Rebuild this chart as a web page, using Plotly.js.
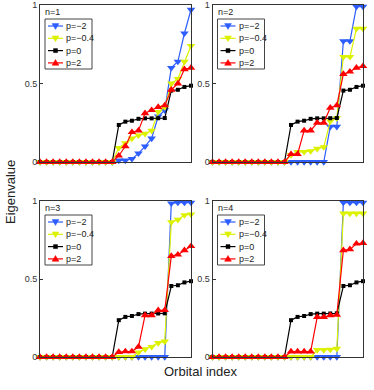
<!DOCTYPE html>
<html>
<head>
<meta charset="utf-8">
<script src="https://cdn.plot.ly/plotly-3.0.1.min.js"></script>
<style>
  body { margin: 0; padding: 0; background: #fff; }
  #myPlot { width: 374px; height: 390px; }
</style>
</head>
<body>
<div id="myPlot"></div>
<script>
// Orbital index 1..24
var orbital = [1,2,3,4,5,6,7,8,9,10,11,12,13,14,15,16,17,18,19,20,21,22,23,24];
var seriesNames = ["p=\u22122", "p=\u22120.4", "p=0", "p=2"];
var panelNames = ["n=1", "n=2", "n=3", "n=4"];

// p=0 is the same in every panel
var pZero = [0,0,0,0,0,0,0,0,0,0,0,0, 0.236,0.257,0.263,0.275,0.278,0.278,0.279,0.28,0.455,0.46,0.478,0.486];

// n=1
var pm2N1  = [0,0,0,0,0,0,0,0,0,0,0,0, 0.01,0.01,0.02,0.055,0.1,0.15,0.29,0.33,0.6,0.64,0.82,0.97];
var pm04N1 = [0,0,0,0,0,0,0,0,0,0,0,0, 0.09,0.12,0.15,0.17,0.18,0.2,0.32,0.35,0.5,0.53,0.64,0.74];
var p2N1   = [0,0,0,0,0,0,0,0,0,0,0,0, 0.04,0.1,0.19,0.2,0.31,0.33,0.35,0.36,0.46,0.5,0.59,0.6];
// n=2
var pm2N2  = [0,0,0,0,0,0,0,0,0,0,0,0, 0,0,0,0,0,0,0.225,0.225,0.77,0.77,0.99,0.99];
var pm04N2 = [0,0,0,0,0,0,0,0,0,0,0,0, 0.045,0.065,0.065,0.07,0.085,0.095,0.26,0.28,0.67,0.67,0.85,0.85];
var p2N2   = [0,0,0,0,0,0,0,0,0,0,0,0, 0.05,0.05,0.2,0.2,0.25,0.25,0.345,0.36,0.56,0.575,0.6,0.61];
// n=3
var pm2N3  = [0,0,0,0,0,0,0,0,0,0,0,0, 0,0,0,0,0,0,0,0,0.985,0.99,0.99,0.99];
var pm04N3 = [0,0,0,0,0,0,0,0,0,0,0,0, 0,0,0,0.03,0.05,0.065,0.09,0.1,0.865,0.88,0.91,0.915];
var p2N3   = [0,0,0,0,0,0,0,0,0,0,0,0, 0.032,0.036,0.036,0.065,0.267,0.267,0.299,0.3,0.647,0.656,0.684,0.71];
// n=4
var pm2N4  = [0,0,0,0,0,0,0,0,0,0,0,0, 0,0,0,0,0,0,0,0,0.99,0.99,0.99,0.99];
var pm04N4 = [0,0,0,0,0,0,0,0,0,0,0,0, 0,0,0,0,0.045,0.045,0.048,0.053,0.92,0.92,0.92,0.92];
var p2N4   = [0,0,0,0,0,0,0,0,0,0,0,0, 0.035,0.035,0.035,0.035,0.256,0.256,0.267,0.27,0.684,0.69,0.726,0.73];

var panels = [
  [pm2N1, pm04N1, pZero, p2N1],
  [pm2N2, pm04N2, pZero, p2N2],
  [pm2N3, pm04N3, pZero, p2N3],
  [pm2N4, pm04N4, pZero, p2N4]
];

var colors = ["#2d5cff", "#dcf200", "#000000", "#ff0000"];
var symbols = ["triangle-down", "triangle-down", "square", "triangle-up"];
var sizes = [7.5, 7.5, 4, 7.5];

var W = 374, H = 390;
function px(x){ return x / W; }
function py(y){ return 1 - y / H; }

// pixel boxes of the four axes
var boxes = [
  {x0: 40, x1: 191, y0: 5, y1: 162},
  {x0: 212.5, x1: 363, y0: 5, y1: 162},
  {x0: 40, x1: 191, y0: 201, y1: 357},
  {x0: 212.5, x1: 363, y0: 201, y1: 357}
];

var font = "Liberation Sans, Arial, sans-serif";
var data = [];
var layout = {
  width: W, height: H,
  margin: {l: 0, r: 0, t: 0, b: 0},
  paper_bgcolor: "#fff",
  plot_bgcolor: "#fff",
  font: {family: font, size: 9, color: "#222"},
  showlegend: false,
  annotations: [],
  shapes: [],
  hovermode: false
};

// small legend drawn like the matlab one (plotly's own is too roomy)
function legendSymbol(s, cx, cy){
  var r = 3.4;
  var d;
  if (symbols[s] === "triangle-down") {
    d = "M" + px(cx - r) + "," + py(cy - r * 0.7) + " L" + px(cx + r) + "," + py(cy - r * 0.7) +
        " L" + px(cx) + "," + py(cy + r) + " Z";
  } else if (symbols[s] === "triangle-up") {
    d = "M" + px(cx - r) + "," + py(cy + r * 0.7) + " L" + px(cx + r) + "," + py(cy + r * 0.7) +
        " L" + px(cx) + "," + py(cy - r) + " Z";
  } else {
    r = 2;
    d = "M" + px(cx - r) + "," + py(cy - r) + " L" + px(cx + r) + "," + py(cy - r) +
        " L" + px(cx + r) + "," + py(cy + r) + " L" + px(cx - r) + "," + py(cy + r) + " Z";
  }
  return {type: "path", xref: "paper", yref: "paper", path: d,
          fillcolor: colors[s], line: {color: colors[s], width: 0.5}};
}

for (var k = 0; k < 4; k++) {
  var b = boxes[k];
  var sfx = k === 0 ? "" : String(k + 1);
  for (var s = 0; s < 4; s++) {
    data.push({
      x: orbital,
      y: panels[k][s],
      xaxis: "x" + sfx,
      yaxis: "y" + sfx,
      name: seriesNames[s],
      mode: "lines+markers",
      cliponaxis: false,
      line: {color: colors[s], width: 1.2},
      marker: {symbol: symbols[s], size: sizes[s], color: colors[s]}
    });
  }
  layout["xaxis" + sfx] = {
    domain: [px(b.x0), px(b.x1)],
    anchor: "y" + sfx,
    range: [1, 24],
    showgrid: false, zeroline: false,
    showticklabels: false, ticks: "",
    showline: true, mirror: true, linecolor: "#333", linewidth: 1
  };
  layout["yaxis" + sfx] = {
    domain: [py(b.y1), py(b.y0)],
    anchor: "x" + sfx,
    range: [0, 1],
    tickvals: [0, 0.5, 1],
    ticktext: ["0", "0.5", "1"],
    ticks: "inside", ticklen: 3, tickcolor: "#333",
    tickfont: {size: 9, color: "#333"},
    showgrid: false, zeroline: false,
    showline: true, mirror: true, linecolor: "#333", linewidth: 1
  };

  // legend box
  var lx0 = b.x0 + 5, ly0 = b.y0 + 14;
  layout.shapes.push({
    type: "rect", xref: "paper", yref: "paper",
    x0: px(lx0), x1: px(lx0 + 47), y0: py(ly0), y1: py(ly0 + 50),
    fillcolor: "#fff", line: {color: "#444", width: 1}
  });
  for (var s2 = 0; s2 < 4; s2++) {
    var ey = ly0 + 7 + s2 * 12.3;
    layout.shapes.push({
      type: "line", xref: "paper", yref: "paper",
      x0: px(lx0 + 3), x1: px(lx0 + 18), y0: py(ey), y1: py(ey),
      line: {color: colors[s2], width: 1.2}
    });
    layout.shapes.push(legendSymbol(s2, lx0 + 10.5, ey));
    layout.annotations.push({
      xref: "paper", yref: "paper",
      x: px(lx0 + 19), y: py(ey),
      xanchor: "left", yanchor: "middle",
      text: seriesNames[s2], showarrow: false,
      font: {size: 9, color: "#222"}
    });
  }

  layout.annotations.push({
    xref: "paper", yref: "paper",
    x: px(b.x0 + 3), y: py(b.y0 + 7),
    xanchor: "left", yanchor: "middle",
    text: panelNames[k], showarrow: false,
    font: {size: 9, color: "#222"}
  });
}

layout.annotations.push({
  xref: "paper", yref: "paper", x: px(10), y: py(192),
  text: "Eigenvalue", textangle: -90, showarrow: false,
  xanchor: "center", yanchor: "middle",
  font: {size: 13, color: "#222"}
});
layout.annotations.push({
  xref: "paper", yref: "paper", x: px(200), y: py(371),
  text: "Orbital index", showarrow: false,
  xanchor: "center", yanchor: "middle",
  font: {size: 13, color: "#222"}
});

Plotly.newPlot("myPlot", data, layout, {staticPlot: true});
</script>
</body>
</html>
